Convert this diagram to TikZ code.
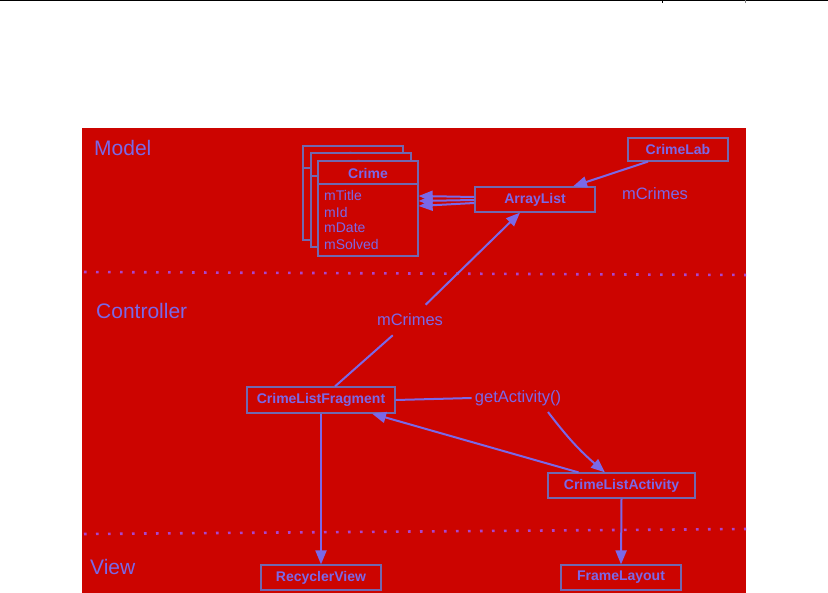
\documentclass[tikz,border=0pt]{standalone}
\usepackage{fontspec}
\setmainfont{Liberation Sans}
\usetikzlibrary{arrows.meta,calc}
\definecolor{bgred}{RGB}{204,4,0}
\definecolor{ink}{RGB}{122,104,232}
\definecolor{edgec}{RGB}{112,104,176}
\definecolor{dotc}{RGB}{170,70,205}
\tikzset{
  box/.style={draw=edgec, line width=1.2bp, fill=bgred, text=ink,
    font=\fontsize{14bp}{16bp}\selectfont\bfseries, inner sep=0pt,
    minimum height=25bp},
  lbl/.style={text=ink, font=\fontsize{16.5bp}{20bp}\selectfont, inner sep=3bp},
  sect/.style={text=ink, font=\fontsize{21bp}{25bp}\selectfont, anchor=west, inner sep=0pt},
  fieldtxt/.style={text=ink, font=\fontsize{14bp}{16bp}\selectfont, anchor=west, inner sep=0pt},
  conn/.style={draw=ink, line width=2bp},
  arr/.style={conn, -{Triangle[length=14bp,width=11bp]}},
  sepline/.style={draw=dotc, line width=2.6bp, dash pattern=on 2.6bp off 9.4bp},
  crimebox/.style={draw=edgec, line width=1.2bp, fill=bgred, inner sep=0pt}
}
\begin{document}
\begin{tikzpicture}[x=1bp,y=-1bp]
\useasboundingbox (0,0) rectangle (828,593);
% top rule
\draw[black, line width=1bp] (0,0.5) -- (828,0.5);
\draw[black, line width=0.8bp] (662,0) -- (662,3);
\draw[gray, line width=0.8bp] (745,0) -- (745,3);
% background
\fill[bgred] (82,128) rectangle (746,593);
% separators
\draw[sepline] (84,272) -- (746,275);
\draw[sepline] (84,534) -- (746,529);
% section labels
\node[sect] (smodel) at (94,148) {Model};
\node[sect] (sctrl) at (96,311) {Controller};
\node[sect] (sview) at (90,567) {View};
% Crime stack
\node[crimebox, minimum width=100bp, minimum height=94bp] (crimeB) at (353,193) {};
\draw[edgec, line width=1.2bp] (303,168) -- (403,168);
\node[box, draw=none, fill=none, minimum height=0pt] (crimeBt) at (353,157) {Crime};
\node[crimebox, minimum width=100bp, minimum height=94bp] (crimeM) at (361,200) {};
\draw[edgec, line width=1.2bp] (311,176) -- (411,176);
\node[box, draw=none, fill=none, minimum height=0pt] (crimeMt) at (361,165) {Crime};
\node[crimebox, minimum width=100bp, minimum height=95bp] (crime) at (368,208.5) {};
\draw[edgec, line width=1.2bp] (318,184) -- (418,184);
\node[box, draw=none, fill=none, minimum height=0pt] (crimet) at (368,173) {Crime};
\node[fieldtxt] (f1) at (324,195) {mTitle};
\node[fieldtxt] (f2) at (324,212) {mId};
\node[fieldtxt] (f3) at (324,228) {mDate};
\node[fieldtxt] (f4) at (324,244) {mSolved};
% boxes
\node[box, minimum width=100bp, minimum height=23bp] (crimelab) at (678,149.5) {CrimeLab};
\node[box, minimum width=120bp] (arraylist) at (535,199.5) {ArrayList};
\node[box, minimum width=148bp, minimum height=26bp] (frag) at (321,400) {CrimeListFragment};
\node[box, minimum width=147bp] (act) at (621.5,485.5) {CrimeListActivity};
\node[box, minimum width=120bp] (recycler) at (321,577.5) {RecyclerView};
\node[box, minimum width=120bp] (frame) at (621,577.5) {FrameLayout};
% labels
\node[lbl] (mc1) at (655,194) {mCrimes};
\node[lbl, inner sep=9bp] (mc2) at (410,320) {mCrimes};
\node[lbl] (ga) at (518,398) {getActivity()};
% connectors
\draw[arr] ([xshift=-30bp]crimelab.south) -- ([xshift=38bp]arraylist.north);
\draw[arr] ([yshift=2.5bp]arraylist.west) -- ([yshift=12.5bp]crime.east);
\draw[arr] ([yshift=-0.5bp]arraylist.west) -- ([yshift=7.5bp]crime.east);
\draw[arr] ([yshift=-3.5bp]arraylist.west) -- ([yshift=2.5bp]crime.east);
\draw[conn] ([xshift=14bp]frag.north) -- (mc2);
\draw[arr] (mc2) -- ([xshift=-15bp]arraylist.south);
\draw[conn] (frag.east) -- (ga.west);
\draw[arr] (548,412) to[bend right=6] ([xshift=-16.5bp]act.north);
\draw[arr] ([xshift=-43bp]act.north) -- ([xshift=51bp]frag.south);
\draw[arr] (frag.south) -- (recycler.north);
\draw[arr] (act.south) -- (frame.north);
\end{tikzpicture}
\end{document}
